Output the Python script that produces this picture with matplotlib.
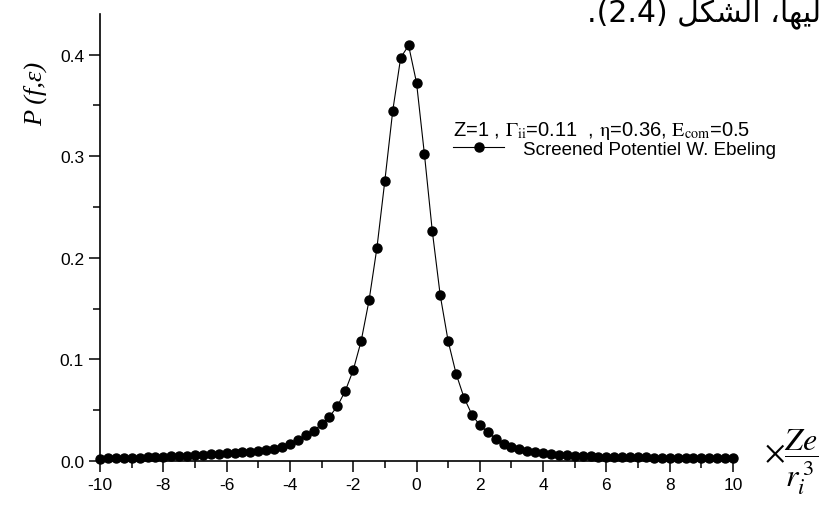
import numpy as np
import matplotlib
matplotlib.use("Agg")
import matplotlib.pyplot as plt
from matplotlib.ticker import MultipleLocator

plt.rcParams['font.family'] = ['Liberation Sans', 'DejaVu Sans']
plt.rcParams['mathtext.fontset'] = 'stix'
plt.rcParams['axes.unicode_minus'] = False

# energy grid, step 0.25
x_vals = np.arange(-10, 10.01, 0.25)

p_vals = [
    0.0024, 0.0025, 0.0027, 0.0028, 0.0030, 0.0032, 0.0035, 0.0038,   # -10 .. -8.25
    0.0042, 0.0045, 0.0049, 0.0052, 0.0056, 0.0062, 0.0068, 0.0072,   # -8 .. -6.25
    0.0076, 0.0081, 0.0086, 0.0091, 0.0096, 0.0105, 0.0116, 0.0134,   # -6 .. -4.25
    0.0163, 0.0205, 0.0252, 0.0300, 0.0362, 0.0436, 0.0540, 0.0690,   # -4 .. -2.25
    0.0894, 0.1180, 0.1580, 0.2100, 0.2760, 0.3450, 0.3970, 0.4090,   # -2 .. -0.25
    0.3725, 0.3020, 0.2260, 0.1630, 0.1180, 0.0860, 0.0625, 0.0457,   # 0 .. 1.75
    0.0352, 0.0286, 0.0220, 0.0172, 0.0138, 0.0118, 0.0103, 0.0089,   # 2 .. 3.75
    0.0079, 0.0073, 0.0064, 0.0056, 0.0050, 0.0047, 0.0045, 0.0043,   # 4 .. 5.75
    0.0041, 0.0039, 0.0038, 0.0037, 0.0036, 0.0035, 0.0034, 0.0033,   # 6 .. 7.75
    0.0032, 0.0031, 0.0030, 0.0030, 0.0029, 0.0028, 0.0028, 0.0027,   # 8 .. 9.75
    0.0027,                                                           # 10
]

legend_title = r'Z=1 , $\Gamma_{\rm ii}$=0.11  , $\mathrm{\eta}$=0.36, $\rm E_{com}$=0.5'
series_label = 'Screened Potentiel W. Ebeling'

# Arabic caption line, pre-shaped glyphs in visual order
caption = '.(2.4) \uFEDE\uFEDC\uFEB8\uFEDF\uFE8D \u060C\uFE8E\uFEEC\uFEF4\uFEDF'

fig = plt.figure(figsize=(8.22, 5.10), dpi=100)
ax = fig.add_axes([0.1217, 0.0941, 0.7700, 0.8765])

ax.plot(x_vals, p_vals, color='black', lw=0.8, marker='o', ms=6.5,
        mfc='black', mec='black', clip_on=False, label=series_label, zorder=3)

ax.set_xlim(-10, 10)
ax.set_ylim(0, 0.44)
ax.xaxis.set_major_locator(MultipleLocator(2))
ax.xaxis.set_minor_locator(MultipleLocator(1))
ax.yaxis.set_major_locator(MultipleLocator(0.1))
ax.yaxis.set_minor_locator(MultipleLocator(0.05))
ax.yaxis.set_major_formatter(matplotlib.ticker.FormatStrFormatter('%.1f'))

for s in ['top', 'right']:
    ax.spines[s].set_visible(False)
for s in ['left', 'bottom']:
    ax.spines[s].set_linewidth(1.2)
ax.tick_params(which='major', direction='out', length=8, width=1.1, labelsize=12.5)
ax.tick_params(which='minor', direction='out', length=5, width=1.1)

leg = ax.legend(loc='upper left', bbox_to_anchor=(0.540, 0.784),
                bbox_transform=fig.transFigure, frameon=False, borderpad=0,
                title=legend_title, title_fontsize=14.5, fontsize=13.5,
                alignment='left', handlelength=2.7, handletextpad=1.0,
                labelspacing=0)

fig.text(0.043, 0.815, 'P (f,\u03b5)', rotation=90, ha='center', va='center',
         fontsize=19, family='Liberation Serif', style='italic')
fig.text(0.962, 0.094, r'$\times\dfrac{Ze}{r_i^{\,3}}$', ha='center', va='center',
         fontsize=23)
fig.text(0.999, 1 - 21 / 510, caption, ha='right', va='baseline', fontsize=21.5,
         family='DejaVu Sans')

fig.savefig('out.png', dpi=100)
